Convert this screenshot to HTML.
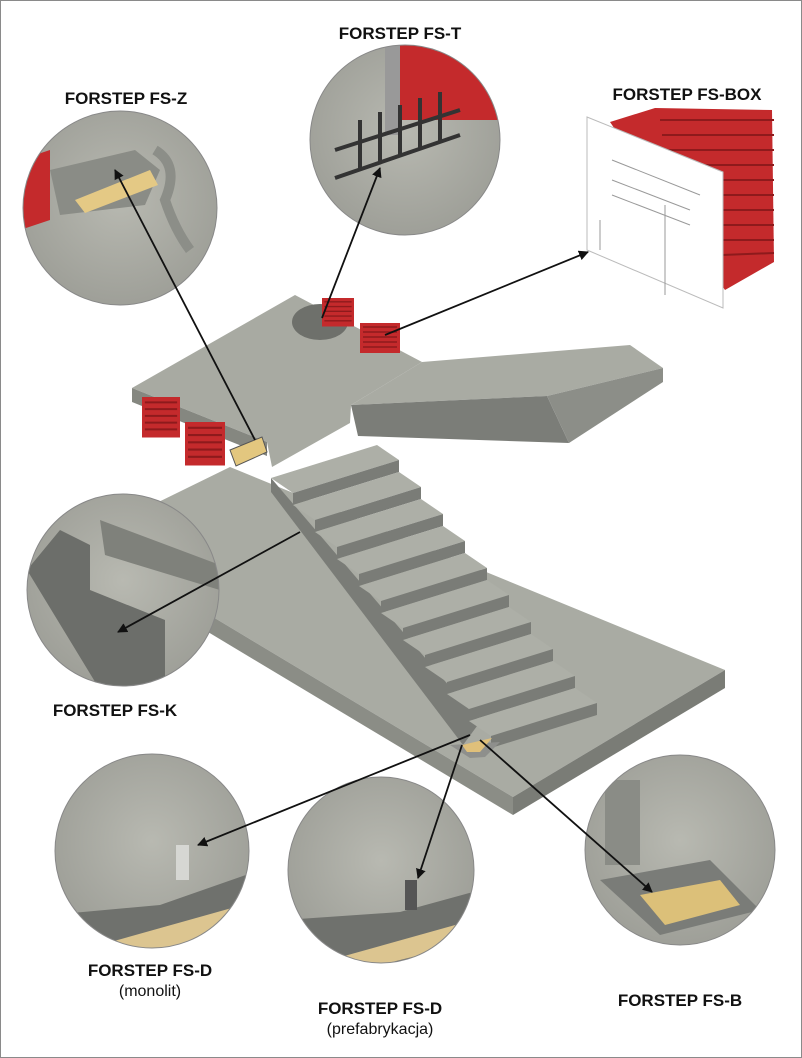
<!DOCTYPE html>
<html><head><meta charset="utf-8"><style>
html,body{margin:0;padding:0;background:#fff}
svg{display:block}
text{font-family:"Liberation Sans",Arial,sans-serif;font-weight:bold;fill:#111}
</style></head><body>
<svg width="802" height="1058" viewBox="0 0 802 1058" xmlns="http://www.w3.org/2000/svg">
<defs>
<radialGradient id="cg" cx="50%" cy="45%" r="60%"><stop offset="0" stop-color="#b8b9b1"/><stop offset="1" stop-color="#9c9d96"/></radialGradient>
<marker id="ah" markerWidth="10" markerHeight="10" refX="9" refY="5" orient="auto" markerUnits="userSpaceOnUse"><path d="M0,0 L10,5 L0,10 z" fill="#111"/></marker>
<clipPath id="cz"><circle cx="120" cy="208" r="97"/></clipPath>
<clipPath id="ct"><circle cx="405" cy="140" r="95"/></clipPath>
<clipPath id="ck"><circle cx="123" cy="590" r="96"/></clipPath>
<clipPath id="cm"><circle cx="152" cy="851" r="97"/></clipPath>
<clipPath id="cp"><circle cx="381" cy="870" r="93"/></clipPath>
<clipPath id="cb"><circle cx="680" cy="850" r="95"/></clipPath>
<g id="step">
<polygon points="271,478 377,445 399,460 293,493" fill="#adafa7"/>
<polygon points="293,493 399,460 399,472 293,505" fill="#7a7c77"/>
</g>
<g id="red"><rect width="40" height="30" fill="#c42a2c"/><path d="M3,4h34M3,9h34M3,14h34M3,19h34M3,24h34" stroke="#8e1a1c" stroke-width="1.5"/></g>
</defs>
<rect x="0.5" y="0.5" width="801" height="1057" fill="#fff" stroke="#8a8a8a"/>

<!-- lower slab -->
<polygon points="83,539 230,467 725,670 513,797" fill="#a9aba3"/>
<polygon points="83,539 513,797 513,815 83,557" fill="#8b8d86"/>
<polygon points="513,797 725,670 725,688 513,815" fill="#7a7c76"/>

<!-- upper flight -->
<polygon points="351,405 422,362 630,345 663,368 547,396" fill="#a9aba3"/>
<polygon points="351,405 547,396 569,443 358,436" fill="#7b7d78"/>
<polygon points="547,396 663,368 663,382 569,443" fill="#8c8e88"/>
<!-- upper landing -->
<polygon points="132,388 295,295 422,362 351,405 350,423 272,467 267,442" fill="#a8aaa2"/>
<polygon points="132,388 267,442 267,456 132,402" fill="#858780"/>

<!-- lower flight stringer -->
<polygon points="271,478 480,722 463,745 271,492" fill="#7a7c77"/>
<use href="#step"/>
<use href="#step" transform="translate(22,27)"/>
<use href="#step" transform="translate(44,54)"/>
<use href="#step" transform="translate(66,81)"/>
<use href="#step" transform="translate(88,108)"/>
<use href="#step" transform="translate(110,135)"/>
<use href="#step" transform="translate(132,162)"/>
<use href="#step" transform="translate(154,189)"/>
<use href="#step" transform="translate(176,216)"/>
<use href="#step" transform="translate(198,243)"/>
<polygon points="450,745 500,742 485,757 470,758" fill="#8e8f8c"/>
<polygon points="462,745 492,738 480,752 467,752" fill="#e0c07a"/>

<!-- red boxes & details on structure -->
<use href="#red" transform="translate(142,397) scale(0.95,1.35)"/>
<use href="#red" transform="translate(185,422) scale(1,1.45)"/>
<ellipse cx="320" cy="322" rx="28" ry="18" fill="#6e706b"/>
<use href="#red" transform="translate(322,298) scale(0.8,0.95)"/>
<use href="#red" transform="translate(360,323) scale(1,1)"/>
<polygon points="230,450 262,437 267,452 236,466" fill="#e3c77f" stroke="#555"/>

<!-- circles -->
<circle cx="120" cy="208" r="97" fill="url(#cg)"/>
<g clip-path="url(#cz)">
<polygon points="50,170 135,150 160,170 145,205 60,215" fill="#8a8c86"/>
<polygon points="75,200 150,170 158,185 85,213" fill="#e4c985"/>
<polygon points="20,160 50,150 50,220 20,230" fill="#c42a2c"/>
<path d="M155,150 Q180,165 165,200 Q175,230 190,250" stroke="#8c8e88" stroke-width="10" fill="none"/>
</g>
<circle cx="120" cy="208" r="97" fill="none" stroke="#888"/>
<circle cx="405" cy="140" r="95" fill="url(#cg)"/>
<g clip-path="url(#ct)">
<rect x="400" y="40" width="110" height="80" fill="#c42a2c"/>
<rect x="385" y="40" width="15" height="95" fill="#999"/>
<g stroke="#333" stroke-width="4" fill="none"><path d="M335,150 L460,110 M335,178 L460,135 M360,120v50 M380,112v50 M400,105v50 M420,98v50 M440,92v50"/></g>
</g>
<circle cx="405" cy="140" r="95" fill="none" stroke="#888"/>
<circle cx="123" cy="590" r="96" fill="url(#cg)"/>
<g clip-path="url(#ck)">
<polygon points="27,570 60,530 90,545 90,590 165,620 165,690 100,690" fill="#6c6e6a"/>
<polygon points="100,520 220,565 220,590 105,555" fill="#7f817b"/>
</g>
<circle cx="123" cy="590" r="96" fill="none" stroke="#888"/>
<circle cx="152" cy="851" r="97" fill="url(#cg)"/>
<g clip-path="url(#cm)">
<polygon points="50,915 160,905 260,870 260,960 50,960" fill="#6f716d"/>
<polygon points="100,945 260,900 260,925 130,960" fill="#dcc590"/>
<rect x="176" y="845" width="13" height="35" fill="#d6d7d3"/>
</g>
<circle cx="152" cy="851" r="97" fill="none" stroke="#888"/>
<circle cx="381" cy="870" r="93" fill="url(#cg)"/>
<g clip-path="url(#cp)">
<polygon points="285,920 400,912 480,890 480,970 285,970" fill="#6f716d"/>
<polygon points="330,960 480,918 480,940 360,970" fill="#dcc590"/>
<rect x="405" y="880" width="12" height="30" fill="#555"/>
</g>
<circle cx="381" cy="870" r="93" fill="none" stroke="#888"/>
<circle cx="680" cy="850" r="95" fill="url(#cg)"/>
<g clip-path="url(#cb)">
<polygon points="600,880 710,860 760,910 660,935" fill="#7a7c78"/>
<polygon points="640,895 720,880 740,905 665,925" fill="#dcc079"/>
<rect x="605" y="780" width="35" height="85" fill="#8a8c86"/>
</g>
<circle cx="680" cy="850" r="95" fill="none" stroke="#888"/>

<!-- FS-BOX -->
<polygon points="610,122 655,108 772,110 774,262 725,290" fill="#c42a2c"/>
<g stroke="#8e1a1c" stroke-width="2"><path d="M660,120L774,120M662,135L774,135M665,150L774,150M670,165L774,165M690,180L774,180M700,195L774,195M705,210L774,210M710,225L774,225M715,240L774,240M722,255L774,253"/></g>
<polygon points="587,117 723,172 723,308 587,250" fill="#fff" stroke="#bbb"/>
<g stroke="#999" fill="none" stroke-width="1"><path d="M612,160L700,195M612,180L690,210M612,195L690,225M665,205v90M600,220v30"/></g>

<!-- arrows -->
<g stroke="#111" stroke-width="1.8" fill="none" marker-end="url(#ah)">
<line x1="255" y1="440" x2="115" y2="170"/>
<line x1="322" y1="318" x2="380" y2="168"/>
<line x1="385" y1="335" x2="588" y2="252"/>
<line x1="300" y1="532" x2="118" y2="632"/>
<line x1="470" y1="735" x2="198" y2="845"/>
<line x1="462" y1="745" x2="418" y2="878"/>
<line x1="480" y1="740" x2="652" y2="892"/>
</g>

<!-- labels -->
<g font-size="17" text-anchor="middle">
<text x="400" y="39">FORSTEP FS-T</text>
<text x="126" y="104">FORSTEP FS-Z</text>
<text x="687" y="100">FORSTEP FS-BOX</text>
<text x="115" y="716">FORSTEP FS-K</text>
<text x="150" y="976">FORSTEP FS-D</text>
<text x="380" y="1014">FORSTEP FS-D</text>
<text x="680" y="1006">FORSTEP FS-B</text>
</g>
<g font-size="16" text-anchor="middle">
<text x="150" y="996" style="font-weight:normal">(monolit)</text>
<text x="380" y="1034" style="font-weight:normal">(prefabrykacja)</text>
</g>
</svg>
</body></html>
